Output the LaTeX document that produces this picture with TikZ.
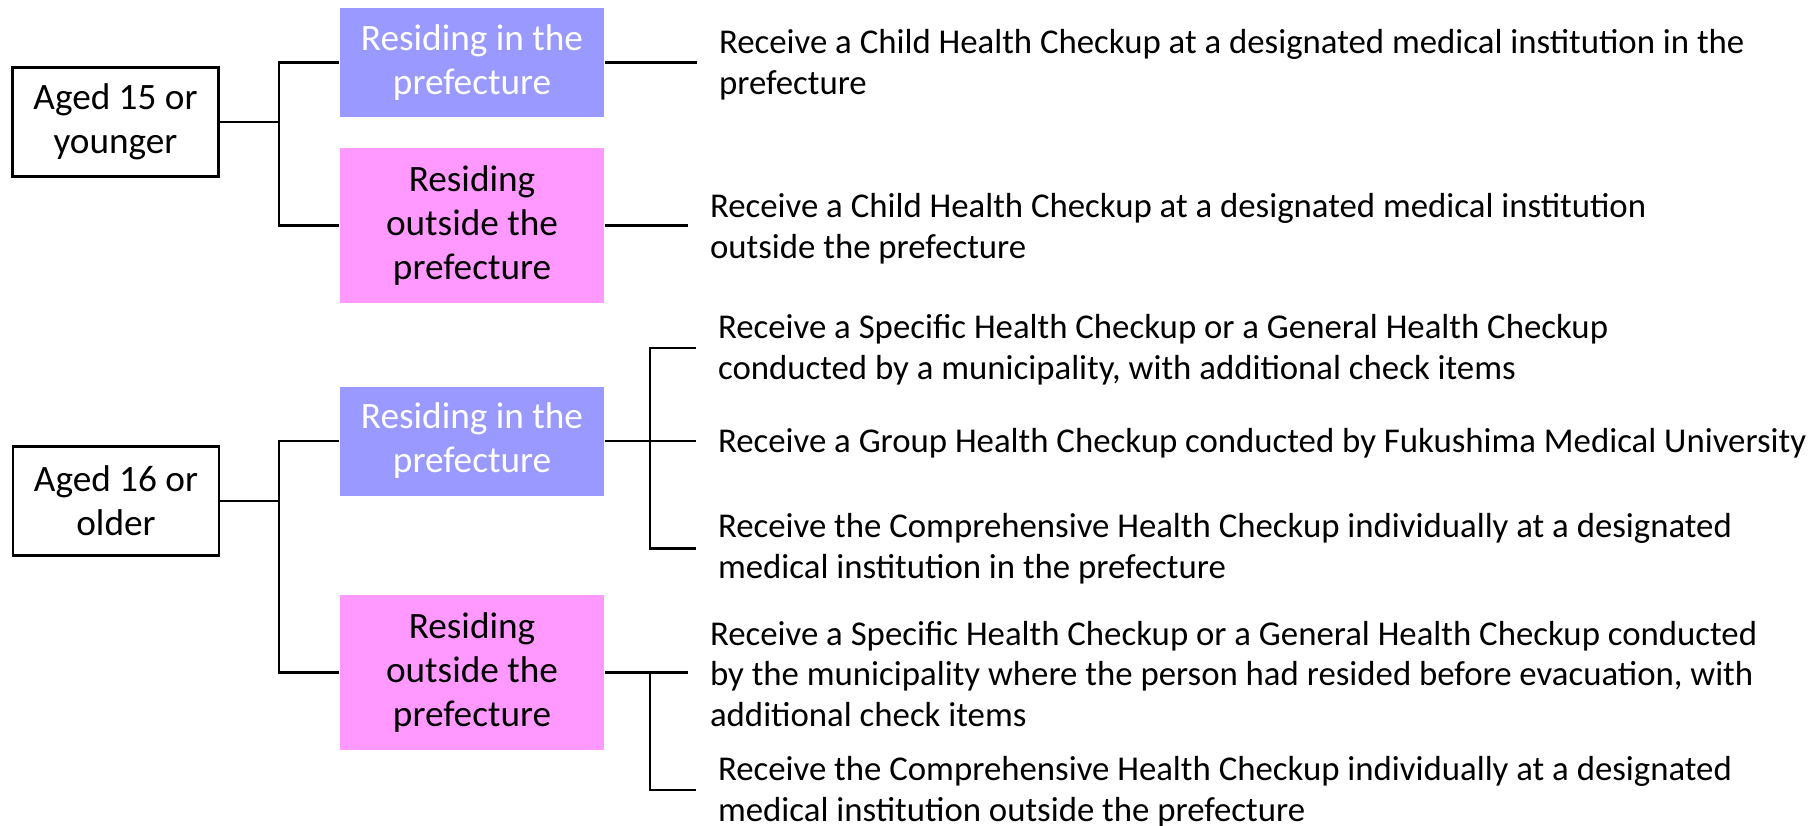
\documentclass[tikz,border=0pt]{standalone}
\usepackage{fontspec}
\setmainfont{Carlito}
\usetikzlibrary{positioning, calc}
\definecolor{hcblue}{HTML}{9999FF}
\definecolor{hcpink}{HTML}{FF99FF}

\begin{document}
\begin{tikzpicture}[
  line width=0.6pt,
  agebox/.style={rectangle, draw=black, line width=0.7pt, minimum width=2.06cm, minimum height=1.09cm, align=center, inner sep=0pt, font=\fontsize{10.6}{12.5}\selectfont},
  inbox/.style={rectangle, fill=hcblue, text=white, minimum width=2.64cm, minimum height=1.09cm, align=center, inner sep=0pt, font=\fontsize{10.6}{12.5}\selectfont},
  outbox/.style={rectangle, fill=hcpink, text=black, minimum width=2.64cm, minimum height=1.55cm, align=center, inner sep=0pt, font=\fontsize{10.6}{12.5}\selectfont},
  checkup/.style={anchor=west, align=left, inner xsep=0.21cm, inner ysep=0pt, font=\fontsize{9.9}{11.55}\selectfont},
]
\useasboundingbox (0,0) rectangle (18.18,-8.26);

% age groups
\node[agebox] (young) at (1.155, -1.22) {Aged 15 or\\younger};
\node[agebox] (old) at (1.16, -5.01) {Aged 16 or\\older};

% places of residence
\node[inbox] (in1) at (4.72, -0.625) {Residing in the\\prefecture};
\node[outbox] (out1) at (4.72, -2.255) {Residing\\outside the\\prefecture};
\node[inbox] (in2) at (4.72, -4.41) {Residing in the\\prefecture};
\node[outbox] (out2) at (4.72, -6.725) {Residing\\outside the\\prefecture};

% checkups
\node[checkup] (t1) at (6.97, -0.65) {Receive a Child Health Checkup at a designated medical institution in the\\prefecture};
\node[checkup] (t2) at (6.88, -2.285) {Receive a Child Health Checkup at a designated medical institution\\outside the prefecture};
\node[checkup] (t3) at (6.96, -3.50) {Receive a Specific Health Checkup or a General Health Checkup\\conducted by a municipality, with additional check items};
\node[checkup] (t4) at (6.96, -4.43) {Receive a Group Health Checkup conducted by Fukushima Medical University};
\node[checkup] (t5) at (6.96, -5.485) {Receive the Comprehensive Health Checkup individually at a designated\\medical institution in the prefecture};
\node[checkup] (t6) at (6.88, -6.74) {Receive a Specific Health Checkup or a General Health Checkup conducted\\by the municipality where the person had resided before evacuation, with\\additional check items};
\node[checkup] (t7) at (6.96, -7.92) {Receive the Comprehensive Health Checkup individually at a designated\\medical institution outside the prefecture};

\coordinate (k1) at (2.79, 0);
\coordinate (k2) at (6.50, 0);

% connectors
\draw (young.east) -- (young.east -| k1);
\draw (in1.west) -| (k1 |- out1.west) -- (out1.west);
\draw (old.east) -- (old.east -| k1);
\draw (in2.west) -| (k1 |- out2.west) -- (out2.west);

\draw (in1.east) -- (in1.east -| t1.west);
\draw (out1.east) -- (out1.east -| t2.west);
\draw (in2.east) -- (in2.east -| t4.west);
\draw ([yshift=0.02cm]t3.west) -- ([yshift=0.02cm]t3.west -| k2) -- (t5.west -| k2) -- (t5.west);
\draw (out2.east) -- (out2.east -| t6.west);
\draw (out2.east -| k2) -- ([yshift=0.02cm]t7.west -| k2) -- ([yshift=0.02cm]t7.west);

\end{tikzpicture}
\end{document}
